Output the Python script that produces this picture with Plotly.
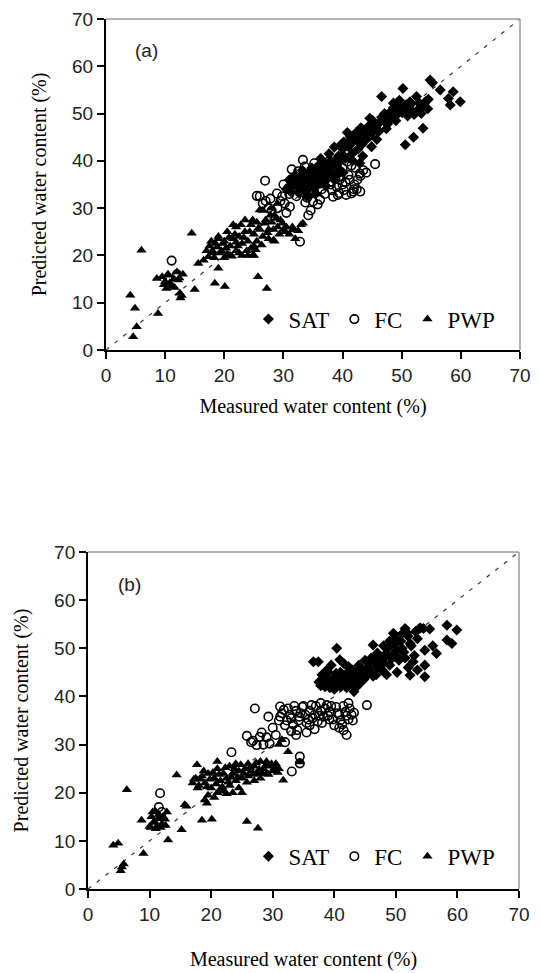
import plotly.graph_objects as go

# ---------------- Panel (a) data ----------------
a_sat_x = [30.5,31.0,31.2,31.8,32.0,32.3,32.7,33.0,33.2,33.5,33.8,34.0,34.2,34.5,34.8,35.0,35.3,35.6,35.9,36.2,
           36.5,36.8,37.0,37.3,37.6,38.0,38.3,38.6,39.0,39.3,39.6,40.0,40.2,40.5,40.8,41.0,41.3,41.6,42.0,42.3,
           42.6,43.0,43.3,43.6,44.0,44.3,44.6,45.0,45.4,45.8,46.2,46.6,47.0,47.4,47.8,48.2,48.6,49.0,49.4,49.8,
           50.2,50.6,51.0,51.4,51.8,52.0,52.5,52.9,53.3,53.6,54.0,54.4,54.8,55.2,56.5,57.9,58.2,58.7,59.9,41.7,
           43.4,39.8,36.3,38.6,42.9,44.9,40.1,37.7,35.4,33.9,
           31.5,32.1,32.6,33.1,33.6,34.1,34.6,35.1,35.6,36.1,36.6,37.1,37.6,38.1,38.6,39.1,39.6,40.1,40.6,41.1,
           41.6,42.1,42.6,43.1,43.6,44.1,44.6,45.1,45.6,46.1,46.6,47.1,47.6,48.1,48.6,49.1,49.6,50.1,50.6,51.1,
           51.6,52.1,53.0,53.5,54.5]
a_sat_y = [34.0,36.0,33.5,35.5,37.0,34.5,36.5,35.0,38.0,33.8,36.8,35.5,37.5,34.5,38.5,36.0,37.2,35.0,39.0,36.5,
           38.0,37.0,39.5,36.0,38.5,40.0,37.5,42.9,39.0,41.0,38.0,42.5,44.0,40.5,46.0,43.0,45.1,41.5,44.5,46.0,
           42.5,45.0,43.5,46.5,44.5,47.2,49.0,46.0,47.5,44.5,48.0,53.6,48.5,46.8,49.5,50.5,52.2,48.5,50.0,51.5,
           55.3,43.4,49.5,52.5,50.5,45.0,53.6,51.0,50.0,46.9,52.5,51.0,57.1,56.5,55.0,53.2,51.8,54.6,52.5,40.0,
           41.0,43.5,40.5,36.0,39.5,43.0,37.5,41.5,33.0,32.5,
           34.8,35.8,33.2,36.2,37.2,34.0,36.2,34.2,38.2,35.2,37.2,34.8,36.8,38.8,39.8,37.2,40.2,41.2,43.2,44.2,
           43.8,45.6,44.2,47.0,44.8,46.0,45.2,48.5,47.0,46.2,49.2,50.0,47.8,48.8,51.2,49.8,52.8,50.2,51.8,50.8,
           52.0,49.8,52.2,51.5,53.0]

a_fc_x = [26.9,25.5,32.8,45.5,11.1,33.3,31.4,28.9,34.2,42.9,41.5,38.4,35.0,31.1,26.5,27.5,29.5,30.0,31.0,32.0,
          33.0,34.0,34.5,35.5,36.0,36.5,37.0,37.5,38.0,38.5,39.0,39.5,40.0,40.5,41.0,41.5,42.0,42.5,43.0,43.5,
          40.2,39.2,41.9,44.0,36.2,33.7,30.5,28.0,12.0,10.5,32.5,35.2,37.8,40.8,34.8,38.8,42.2,29.8,27.8,
          30.8,31.6,32.2,32.9,33.4,34.0,34.6,35.2,35.8,36.4,37.0,37.6,38.2,38.8,39.4,40.0,40.6,41.2,41.8,42.4,
          43.0,39.6,36.8,33.6,30.2,29.0,27.0,26.0,34.6,35.8]
a_fc_y = [35.8,32.6,22.9,39.3,18.9,40.2,38.2,33.1,28.5,37.3,33.1,32.4,31.4,30.3,31.0,30.0,31.5,35.0,33.0,36.5,
          34.0,37.0,33.0,36.0,38.0,34.0,36.5,39.0,35.0,37.5,34.5,36.0,38.5,35.5,37.0,39.0,35.0,36.0,33.5,38.0,
          33.8,32.8,34.0,37.5,31.8,31.2,29.0,29.5,16.0,15.0,37.8,39.5,40.0,39.8,35.2,38.2,38.5,32.5,32.0,
          34.2,36.0,32.5,35.2,37.0,32.2,34.8,33.4,37.2,35.2,33.0,37.0,33.8,36.2,33.2,35.0,32.8,36.0,33.5,34.0,
          36.8,37.6,39.0,38.8,31.0,30.0,31.5,32.5,29.5,30.8]

a_pwp_x = [14.5,6.0,8.6,4.1,4.9,8.8,5.2,4.6,15.0,18.4,20.1,25.7,27.2,12.5,12.2,15.6,17.3,19.0,26.0,28.3,
           24.9,31.6,33.3,10.0,10.5,11.0,12.8,13.0,9.5,11.5,10.2,12.0,17.5,18.0,18.5,19.0,19.5,20.0,20.0,20.5,
           21.0,21.0,21.5,22.0,22.0,22.5,23.0,23.0,23.5,23.5,24.0,24.5,24.5,25.0,25.0,25.5,25.5,26.0,26.5,26.5,
           27.0,27.5,27.5,28.0,28.0,28.5,29.0,29.0,29.5,30.0,30.5,31.0,32.0,33.0,28.5,19.0,18.0,16.5,21.5,25.0,
           22.5,
           17.0,17.8,18.3,18.8,19.3,19.8,20.3,20.8,21.3,21.8,22.3,22.8,23.3,23.8,24.3,24.8,25.3,25.8,26.3,26.8,
           27.3,27.8,28.3,28.8,29.3,29.8,30.3,31.5,32.5,24.0,22.0,20.5,10.8,11.6,9.8,12.4,12.6,10.4]
a_pwp_y = [24.7,21.1,15.1,11.6,8.8,7.7,4.9,2.8,12.8,14.1,13.4,15.5,13.0,12.0,14.8,18.3,19.7,17.3,29.6,23.2,
           20.1,25.4,26.8,14.5,16.0,13.5,11.5,16.0,15.5,15.0,13.0,16.5,22.0,20.5,22.5,24.0,21.0,23.0,19.5,25.0,
           22.0,20.0,23.5,21.0,26.0,24.0,22.5,20.0,27.5,25.0,23.0,26.5,21.5,24.5,22.0,27.0,23.0,25.5,29.5,24.0,
           27.5,25.5,23.5,30.0,27.0,28.5,26.0,31.0,27.5,25.5,26.0,24.5,23.5,26.5,23.0,23.5,21.0,19.0,26.5,20.0,
           20.5,
           21.0,23.0,19.5,21.8,20.5,22.5,21.5,23.8,19.8,24.5,22.0,26.5,23.8,21.0,25.0,27.5,21.2,25.8,22.2,26.8,
           24.8,28.5,25.5,27.8,24.5,26.8,25.0,26.0,25.2,20.0,22.8,20.3,14.2,13.2,13.8,15.2,11.0,15.8]

# ---------------- Panel (b) data ----------------
b_sat_x = [58.3,59.9,58.3,59.1,56.6,54.7,54.7,54.7,52.3,40.4,36.6,37.4,40.9,41.6,42.3,49.6,51.5,54.5,53.8,46.3,
           37.5,38.0,38.5,39.0,39.0,39.5,40.0,40.0,40.5,41.0,41.0,41.5,42.0,42.0,42.5,43.0,43.0,43.5,44.0,44.0,
           44.5,45.0,45.0,45.5,46.0,46.0,46.5,47.0,47.0,47.5,48.0,48.0,48.5,49.0,49.0,49.5,50.0,50.0,50.5,51.0,
           51.0,51.5,52.0,52.0,52.5,53.0,53.5,53.5,44.2,43.2,46.8,50.2,55.5,56.0,48.5,39.5,
           37.8,38.3,38.8,39.3,39.8,40.3,40.8,41.3,41.8,42.3,42.8,43.3,43.8,44.3,44.8,45.3,45.8,46.3,46.8,47.3,
           47.8,48.3,48.8,49.3,49.8,50.3,50.8,51.3,51.8,52.3,52.8,53.2,54.0,44.0,40.2]
b_sat_y = [54.8,53.8,51.7,51.0,48.9,49.6,46.5,44.1,44.4,50.0,47.2,47.2,47.6,46.8,46.2,53.1,54.1,54.1,54.1,50.7,
           43.0,44.5,42.0,43.5,45.0,42.5,44.0,41.5,43.0,45.0,42.0,43.5,44.5,41.8,43.0,45.5,42.5,44.0,46.5,43.0,
           45.0,47.5,44.0,46.0,48.0,45.0,47.0,49.0,46.0,48.0,50.5,47.0,49.0,51.5,46.5,48.5,52.0,49.5,47.5,53.0,
           50.0,48.0,52.5,46.0,50.5,48.5,52.0,45.5,42.8,41.0,44.5,45.0,54.0,50.5,44.5,46.5,
           42.2,43.8,45.5,41.8,43.2,44.8,42.5,44.2,42.8,45.2,43.6,44.6,42.2,45.8,43.5,45.2,47.2,44.2,48.2,47.2,
           45.5,48.2,50.2,47.8,50.8,48.2,51.5,49.2,53.2,51.0,47.2,53.5,54.2,44.8,43.0]

b_fc_x = [27.1,29.3,45.3,42.0,25.8,27.9,23.3,11.7,34.4,33.1,34.4,27.4,31.2,26.5,28.5,29.0,30.5,31.0,31.5,32.0,
          32.5,33.0,33.5,34.0,34.5,35.0,35.5,36.0,36.5,37.0,37.5,38.0,38.5,39.0,39.5,40.0,40.5,41.0,41.5,42.0,
          42.5,43.0,40.8,41.5,39.2,36.8,35.5,33.8,32.0,11.5,12.0,30.0,37.8,42.3,34.2,
          31.2,31.8,32.3,32.8,33.3,33.8,34.3,34.8,35.3,35.8,36.3,36.8,37.3,37.8,38.3,38.8,39.3,39.8,40.3,40.8,
          41.3,41.8,42.3,42.8,43.2,33.0,36.0,28.2,26.8,29.5]
b_fc_y = [37.5,35.8,38.2,32.0,31.8,31.6,28.4,19.9,27.5,24.4,26.1,29.9,37.9,30.5,30.0,31.5,32.0,35.0,36.5,34.0,
          37.5,35.5,38.0,33.0,36.5,38.0,34.5,37.0,35.5,38.0,36.0,34.5,37.5,36.0,38.0,34.0,36.5,35.0,38.0,36.0,
          37.5,35.0,33.5,33.0,35.2,33.2,32.5,32.0,30.5,17.0,16.0,33.5,38.6,38.6,35.0,
          35.8,37.2,35.0,36.2,34.2,37.0,35.8,37.8,36.2,35.2,38.2,36.2,34.8,37.0,35.8,38.2,36.8,35.2,37.8,36.2,
          34.2,36.8,35.2,36.2,36.6,32.8,34.0,32.5,30.8,30.2]

b_pwp_x = [6.3,14.4,17.7,8.7,4.1,4.9,9.0,5.5,5.8,5.3,15.2,13.0,18.5,20.1,25.8,27.6,15.7,16.0,19.3,19.0,
           31.7,34.4,32.5,10.0,10.3,10.5,10.8,11.0,11.5,12.0,12.5,12.8,11.2,10.2,17.0,17.5,18.0,18.5,19.0,19.5,
           20.0,20.5,21.0,21.0,21.5,22.0,22.0,22.5,23.0,23.0,23.5,24.0,24.0,24.5,25.0,25.0,25.5,26.0,26.0,26.5,
           27.0,27.0,27.5,28.0,28.0,28.5,29.0,29.0,29.5,30.0,30.5,31.0,31.5,31.0,19.5,20.5,22.5,21.0,23.5,
           17.2,17.8,18.3,18.8,19.3,19.8,20.3,20.8,21.3,21.8,22.3,22.8,23.3,23.8,24.3,24.8,25.3,25.8,26.3,26.8,
           27.3,27.8,28.3,28.8,29.3,29.8,30.3,30.8,24.5,21.5,10.6,11.4,12.2,10.9,11.8,12.6]
b_pwp_y = [20.6,23.7,25.8,14.3,9.1,9.5,7.4,4.6,5.2,3.8,12.3,10.2,14.3,14.5,14.0,12.6,17.5,17.2,17.8,18.5,
           22.6,26.4,28.5,13.0,15.0,16.0,14.0,12.5,15.5,13.5,14.5,16.0,13.0,12.8,22.0,23.0,21.5,23.5,22.0,24.0,
           21.0,23.0,25.0,20.0,22.5,24.0,20.5,23.0,25.5,21.5,24.0,22.5,26.0,24.5,23.0,20.0,25.0,23.5,26.0,24.5,
           22.5,25.5,24.0,26.5,23.0,25.0,24.0,26.5,25.5,24.5,26.0,25.0,31.0,30.0,19.5,19.0,19.8,26.5,20.0,
           22.8,21.0,22.8,24.5,21.2,22.8,24.2,21.8,23.8,21.2,25.2,22.2,23.2,25.0,23.2,25.8,24.0,22.2,25.2,23.8,
           26.2,24.8,24.0,25.6,23.8,26.0,25.2,24.2,21.0,20.3,13.8,14.6,15.0,16.2,12.8,13.2]

series_names = ["SAT", "FC", "PWP"]
axis_range = [0, 70]
tick_vals = [0, 10, 20, 30, 40, 50, 60, 70]
one_to_one = [0, 70]

SERIF = "Liberation Serif, Times New Roman, serif"
SANS = "Liberation Sans, Arial, sans-serif"

fig = go.Figure()

def add_panel(xa, ya, legend, sat, fc, pwp):
    fig.add_trace(go.Scatter(x=one_to_one, y=one_to_one, mode="lines", xaxis=xa, yaxis=ya,
                             line=dict(color="#333333", width=1.2, dash="4px,7px"),
                             showlegend=False, hoverinfo="skip"))
    fig.add_trace(go.Scatter(x=fc[0], y=fc[1], mode="markers", name=series_names[1], xaxis=xa, yaxis=ya,
                             legend=legend, legendrank=2,
                             marker=dict(symbol="circle-open", size=8.5, color="black", line=dict(width=1.6))))
    fig.add_trace(go.Scatter(x=pwp[0], y=pwp[1], mode="markers", name=series_names[2], xaxis=xa, yaxis=ya,
                             legend=legend, legendrank=3,
                             marker=dict(symbol="triangle-up", size=9, color="black")))
    fig.add_trace(go.Scatter(x=sat[0], y=sat[1], mode="markers", name=series_names[0], xaxis=xa, yaxis=ya,
                             legend=legend, legendrank=1,
                             marker=dict(symbol="diamond", size=8.5, color="black")))

add_panel("x", "y", "legend", (a_sat_x, a_sat_y), (a_fc_x, a_fc_y), (a_pwp_x, a_pwp_y))
add_panel("x2", "y2", "legend2", (b_sat_x, b_sat_y), (b_fc_x, b_fc_y), (b_pwp_x, b_pwp_y))

axis_common = dict(range=axis_range, tickvals=tick_vals, ticks="outside", ticklen=7, tickwidth=2,
                   tickcolor="black", showline=True, linecolor="black", linewidth=2, showgrid=False,
                   zeroline=False, automargin=False,
                   tickfont=dict(family=SANS, size=19, color="#222222"))

title_font = dict(family=SERIF, size=20, color="black")

fig.update_layout(
    width=541, height=973, margin=dict(l=0, r=0, t=0, b=0),
    paper_bgcolor="white", plot_bgcolor="white", showlegend=True,
    xaxis=dict(domain=[0.1959, 0.9612], anchor="y",
               title=dict(text="Measured water content (%)", font=title_font, standoff=14), **axis_common),
    yaxis=dict(domain=[0.6403, 0.9805], anchor="x",
               title=dict(text="Predicted water content (%)", font=title_font, standoff=20), **axis_common),
    xaxis2=dict(domain=[0.1627, 0.9593], anchor="y2",
                title=dict(text="Measured water content (%)", font=title_font, standoff=28), **axis_common),
    yaxis2=dict(domain=[0.0863, 0.4327], anchor="x2",
                title=dict(text="Predicted water content (%)", font=title_font, standoff=20), **axis_common),
    legend=dict(orientation="h", x=0.925, y=0.672, xanchor="right", yanchor="middle",
                traceorder="normal", font=dict(family=SERIF, size=23, color="black"),
                bgcolor="rgba(0,0,0,0)", itemwidth=30, tracegroupgap=0),
    legend2=dict(orientation="h", x=0.925, y=0.120, xanchor="right", yanchor="middle",
                 traceorder="normal", font=dict(family=SERIF, size=23, color="black"),
                 bgcolor="rgba(0,0,0,0)", itemwidth=30, tracegroupgap=0),
    annotations=[
        dict(text="(a)", x=0.097, y=0.906, xref="x domain", yref="y domain", showarrow=False,
             xanchor="center", yanchor="middle",
             font=dict(family=SANS, size=19, color="#222222")),
        dict(text="(b)", x=0.097, y=0.905, xref="x2 domain", yref="y2 domain", showarrow=False,
             xanchor="center", yanchor="middle",
             font=dict(family=SANS, size=19, color="#222222")),
    ],
    shapes=[
        dict(type="line", xref="x domain", yref="y domain", x0=0, x1=1, y0=1, y1=1,
             line=dict(color="#9a9a9a", width=1.5)),
        dict(type="line", xref="x domain", yref="y domain", x0=1, x1=1, y0=0, y1=1,
             line=dict(color="#9a9a9a", width=1.5)),
        dict(type="line", xref="x2 domain", yref="y2 domain", x0=0, x1=1, y0=1, y1=1,
             line=dict(color="#9a9a9a", width=1.5)),
        dict(type="line", xref="x2 domain", yref="y2 domain", x0=1, x1=1, y0=0, y1=1,
             line=dict(color="#9a9a9a", width=1.5)),
    ],
)

# remove the browser's default 8px body margin so the figure fills the window exactly
fig.write_html("out.html", config={"displayModeBar": False},
               post_script="document.body.style.margin='0';document.body.style.overflow='hidden';")
